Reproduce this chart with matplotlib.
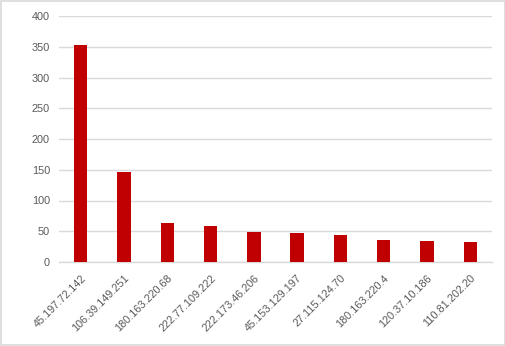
import matplotlib.pyplot as plt
from matplotlib.patches import Rectangle
import numpy as np

# source addresses and hit counts
ips = ['45.197.72.142', '106.39.149.251', '180.163.220.68', '222.77.109.222',
       '222.173.46.206', '45.153.129.197', '27.115.124.70', '180.163.220.4',
       '120.37.10.186', '110.81.202.20']
counts = [353, 147, 64, 59, 49, 47, 44, 36, 34, 33]

grid_c = '#d9d9d9'
text_c = '#595959'

fig = plt.figure(figsize=(5.06, 3.46), dpi=100)
ax = fig.add_axes([59/506, 84/346, 433/506, 246/346])

x = np.arange(len(ips))
ax.bar(x, counts, width=0.31, color='#c00000', zorder=3)

ax.set_xlim(-0.5, len(ips) - 0.5)
ax.set_ylim(0, 400)
ax.set_yticks(np.arange(0, 401, 50))
ax.yaxis.grid(True, color=grid_c, linewidth=1, zorder=0)

for s in ['top', 'right', 'left']:
    ax.spines[s].set_visible(False)
ax.spines['bottom'].set_color(grid_c)
ax.spines['bottom'].set_linewidth(1)

ax.tick_params(axis='both', length=0, colors=text_c, labelsize=7.8)
ax.tick_params(axis='y', pad=6.5)
ax.set_xticks(x)
ax.set_xticklabels(ips, rotation=45, ha='right', va='top', rotation_mode='anchor',
                   fontfamily='Liberation Sans')
for lbl in ax.get_yticklabels():
    lbl.set_fontfamily('Liberation Sans')
ax.tick_params(axis='x', pad=8)

# thin frame round the whole chart
fig.patches.append(Rectangle((0.001, 0.002), 0.997, 0.995, transform=fig.transFigure,
                             fill=False, edgecolor=grid_c, linewidth=1.2))

fig.savefig('out.png', dpi=100)
